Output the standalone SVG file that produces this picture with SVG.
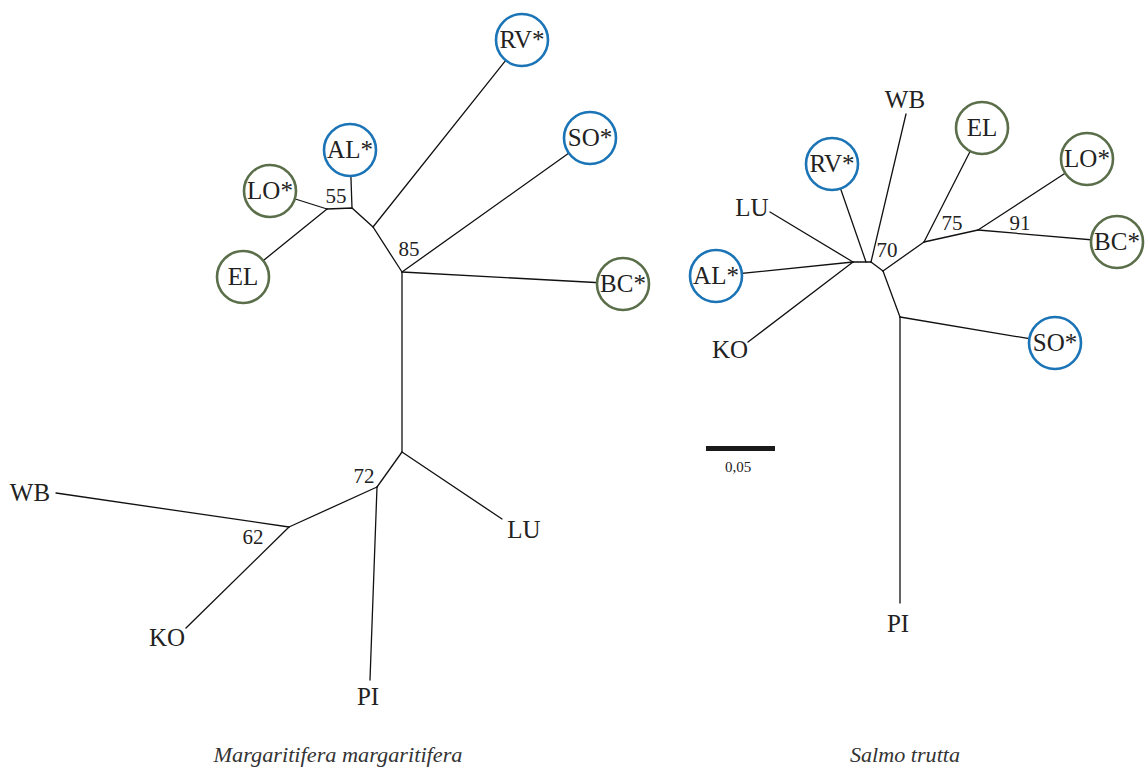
<svg xmlns="http://www.w3.org/2000/svg" width="1148" height="769" viewBox="0 0 1148 769">
<style>
.e{stroke:#111;stroke-width:1.3;fill:none;stroke-linecap:round}
.b{fill:#fff;stroke:#1a74b6;stroke-width:2.6}
.g{fill:#fff;stroke:#5a6e4a;stroke-width:2.6}
.t{font-family:"Liberation Serif","DejaVu Serif",serif;font-size:25px;fill:#222;text-anchor:middle}
.n{font-family:"Liberation Serif","DejaVu Serif",serif;font-size:21px;fill:#222;text-anchor:middle}
.c{font-family:"Liberation Serif","DejaVu Serif",serif;font-size:20px;font-style:italic;fill:#333;text-anchor:middle}
</style>
<rect width="1148" height="769" fill="#fff"/>
<g id="connectors">
<path class="e" d="M352,208 L350,150"/>
<path class="e" d="M373,227 L522,40"/>
<path class="e" d="M327,209 L270,191"/>
<path class="e" d="M327,209 L243,277"/>
<path class="e" d="M327,209 L352,208 L373,227 L402,272"/>
<path class="e" d="M402,272 L590,138"/>
<path class="e" d="M402,272 L623,284"/>
<path class="e" d="M402,272 L402,452"/>
<path class="e" d="M402,452 L502,519"/>
<path class="e" d="M402,452 L377,487"/>
<path class="e" d="M377,487 L370,680"/>
<path class="e" d="M377,487 L289,527"/>
<path class="e" d="M289,527 L56,493"/>
<path class="e" d="M289,527 L186,628"/>
<path class="e" d="M853,262 L770,212"/>
<path class="e" d="M853,262 L716,276"/>
<path class="e" d="M853,262 L748,342"/>
<path class="e" d="M853,262 L871,262"/>
<path class="e" d="M866,262 L832,164"/>
<path class="e" d="M871,262 L906,114"/>
<path class="e" d="M871,262 L883,271"/>
<path class="e" d="M883,271 L924,242"/>
<path class="e" d="M924,242 L982,128"/>
<path class="e" d="M924,242 L978,230"/>
<path class="e" d="M978,230 L1087,159"/>
<path class="e" d="M978,230 L1117,242"/>
<path class="e" d="M883,271 L900,317"/>
<path class="e" d="M900,317 L1055,343"/>
<path class="e" d="M900,317 L900,603"/>
</g>
<g id="L-RV"><circle class="b" cx="522" cy="40" r="26"/><text class="t" x="522" y="48">RV*</text></g>
<g id="L-AL"><circle class="b" cx="350" cy="150" r="26"/><text class="t" x="350" y="158">AL*</text></g>
<g id="L-LO"><circle class="g" cx="270" cy="191" r="26"/><text class="t" x="270" y="199">LO*</text></g>
<g id="L-EL"><circle class="g" cx="243" cy="277" r="26"/><text class="t" x="243" y="285">EL</text></g>
<g id="L-SO"><circle class="b" cx="590" cy="138" r="26"/><text class="t" x="590" y="146">SO*</text></g>
<g id="L-BC"><circle class="g" cx="623" cy="284" r="26"/><text class="t" x="623" y="292">BC*</text></g>
<g id="L-WB"><text class="t" x="30" y="501">WB</text></g>
<g id="L-LU"><text class="t" x="524" y="538">LU</text></g>
<g id="L-KO"><text class="t" x="167" y="646">KO</text></g>
<g id="L-PI"><text class="t" x="368" y="705">PI</text></g>
<g id="L-support">
<text class="n" x="336" y="203">55</text>
<text class="n" x="409" y="256">85</text>
<text class="n" x="364" y="483">72</text>
<text class="n" x="253" y="544">62</text>
</g>
<g id="R-WB"><text class="t" x="905" y="108">WB</text></g>
<g id="R-RV"><circle class="b" cx="832" cy="164" r="26"/><text class="t" x="832" y="172">RV*</text></g>
<g id="R-EL"><circle class="g" cx="982" cy="128" r="26"/><text class="t" x="982" y="136">EL</text></g>
<g id="R-LO"><circle class="g" cx="1087" cy="159" r="26"/><text class="t" x="1087" y="167">LO*</text></g>
<g id="R-BC"><circle class="g" cx="1117" cy="242" r="26"/><text class="t" x="1117" y="250">BC*</text></g>
<g id="R-LU"><text class="t" x="752" y="216">LU</text></g>
<g id="R-AL"><circle class="b" cx="716" cy="276" r="26"/><text class="t" x="716" y="284">AL*</text></g>
<g id="R-KO"><text class="t" x="730" y="358">KO</text></g>
<g id="R-SO"><circle class="b" cx="1055" cy="343" r="26"/><text class="t" x="1055" y="351">SO*</text></g>
<g id="R-PI"><text class="t" x="898" y="632">PI</text></g>
<g id="R-support">
<text class="n" x="887" y="257">70</text>
<text class="n" x="952" y="230">75</text>
<text class="n" x="1020" y="230">91</text>
</g>
<g id="scale">
<rect x="706" y="446" width="69" height="5" fill="#1a1a1a"/>
<text class="n" x="738" y="472" style="font-size:15px">0,05</text>
</g>
<g id="captions">
<text class="c" x="338" y="762" textLength="249" lengthAdjust="spacingAndGlyphs">Margaritifera margaritifera</text>
<text class="c" x="905" y="762" textLength="110" lengthAdjust="spacingAndGlyphs">Salmo trutta</text>
</g>
</svg>
